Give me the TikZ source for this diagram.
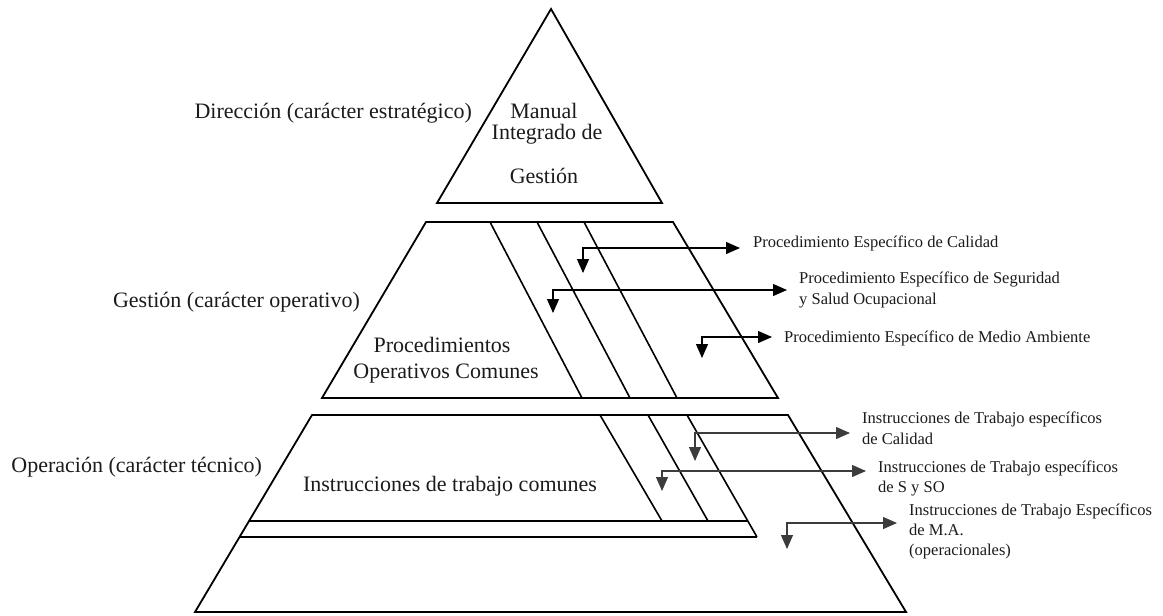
\documentclass[tikz,border=0pt]{standalone}
\usepackage{fontspec}
\setmainfont{Liberation Serif}
\usetikzlibrary{arrows.meta}
\definecolor{ink}{HTML}{1C1A1A}
\definecolor{greyink}{HTML}{3E3B3C}
\begin{document}
\begin{tikzpicture}[x=1pt,y=-1pt,
  outline/.style={line width=1.8pt, line join=miter, draw=black},
  divider/.style={line width=1.6pt, draw=black},
  pointer/.style={line width=1.2pt, draw=black,
    {Triangle[length=14pt,width=12pt]}-{Triangle[length=14pt,width=12pt]}},
  greypointer/.style={pointer, draw=greyink},
  biglabel/.style={font=\fontsize{22}{26}\selectfont, inner sep=0pt, text=ink},
  smalllabel/.style={font=\fontsize{16.5}{20}\selectfont, inner sep=0pt, anchor=base west, text=ink},
]
\useasboundingbox (0,0) rectangle (1163,616);

% top level: the integrated manual
\draw[outline] (551,9) -- (662,203) -- (437,203) -- cycle;

% middle band: procedures
\draw[outline] (426,222) -- (673,222) -- (778,398) -- (322,398) -- cycle;
\draw[divider] (490,222) -- (582,398);
\draw[divider] (537,222) -- (630,398);
\draw[divider] (584,222) -- (677,398);

% bottom band: work instructions
\draw[outline] (312,415) -- (788,415) -- (906,612) -- (195,612) -- cycle;
\draw[divider] (600,415) -- (662,521);
\draw[divider] (648,415) -- (708,521);
\draw[divider] (687,415) -- (757,537);
\draw[divider] (249,521) -- (748,521);
\draw[divider] (240,537) -- (757,537);

% level names on the left
\node[biglabel, anchor=base east] (dir) at (472,118) {Dirección (carácter estratégico)};
\node[biglabel, anchor=base east] (ges) at (360,307) {Gestión (carácter operativo)};
\node[biglabel, anchor=base east] (ope) at (262,472) {Operación (carácter técnico)};

% texts inside the pyramid
\node[biglabel, anchor=base] (man1) at (544,118) {Manual};
\node[biglabel, anchor=base] (man2) at (547,139) {Integrado de};
\node[biglabel, anchor=base] (man3) at (544,183) {Gestión};
\node[biglabel, anchor=base] (poc1) at (442,352) {Procedimientos};
\node[biglabel, anchor=base] (poc2) at (446,378) {Operativos Comunes};
\node[biglabel, anchor=base] (itc) at (450,491) {Instrucciones de trabajo comunes};

% specific procedures
\node[smalllabel] (pq) at (753,247) {Procedimiento Específico de Calidad};
\node[smalllabel] (ps1) at (799,283) {Procedimiento Específico de Seguridad};
\node[smalllabel] (ps2) at (799,304) {y Salud Ocupacional};
\node[smalllabel] (pm) at (784,342) {Procedimiento Específico de Medio Ambiente};

\coordinate (mc1) at (583,248); \coordinate (mh1) at (740,248); \coordinate (mv1) at (583,273);
\coordinate (mc2) at (553,290); \coordinate (mh2) at (787,290); \coordinate (mv2) at (553,313);
\coordinate (mc3) at (702,337); \coordinate (mh3) at (772,337); \coordinate (mv3) at (702,358);
\draw[pointer] (mv1) -- (mc1) -- (mh1);
\draw[pointer] (mv2) -- (mc2) -- (mh2);
\draw[pointer] (mv3) -- (mc3) -- (mh3);

% specific work instructions
\node[smalllabel] (iq1) at (862,423) {Instrucciones de Trabajo específicos};
\node[smalllabel] (iq2) at (862,444) {de Calidad};
\node[smalllabel] (is1) at (878,472) {Instrucciones de Trabajo específicos};
\node[smalllabel] (is2) at (878,492) {de S y SO};
\node[smalllabel] (im1) at (909,515) {Instrucciones de Trabajo Específicos};
\node[smalllabel] (im2) at (909,535) {de M.A.};
\node[smalllabel] (im3) at (909,555) {(operacionales)};

\coordinate (bc1) at (695,433); \coordinate (bh1) at (850,433); \coordinate (bv1) at (695,461);
\coordinate (bc2) at (662,471); \coordinate (bh2) at (866,471); \coordinate (bv2) at (662,491);
\coordinate (bc3) at (787,523); \coordinate (bh3) at (897,523); \coordinate (bv3) at (787,549);
\draw[greypointer] (bv1) -- (bc1) -- (bh1);
\draw[greypointer] (bv2) -- (bc2) -- (bh2);
\draw[greypointer] (bv3) -- (bc3) -- (bh3);
\end{tikzpicture}
\end{document}
